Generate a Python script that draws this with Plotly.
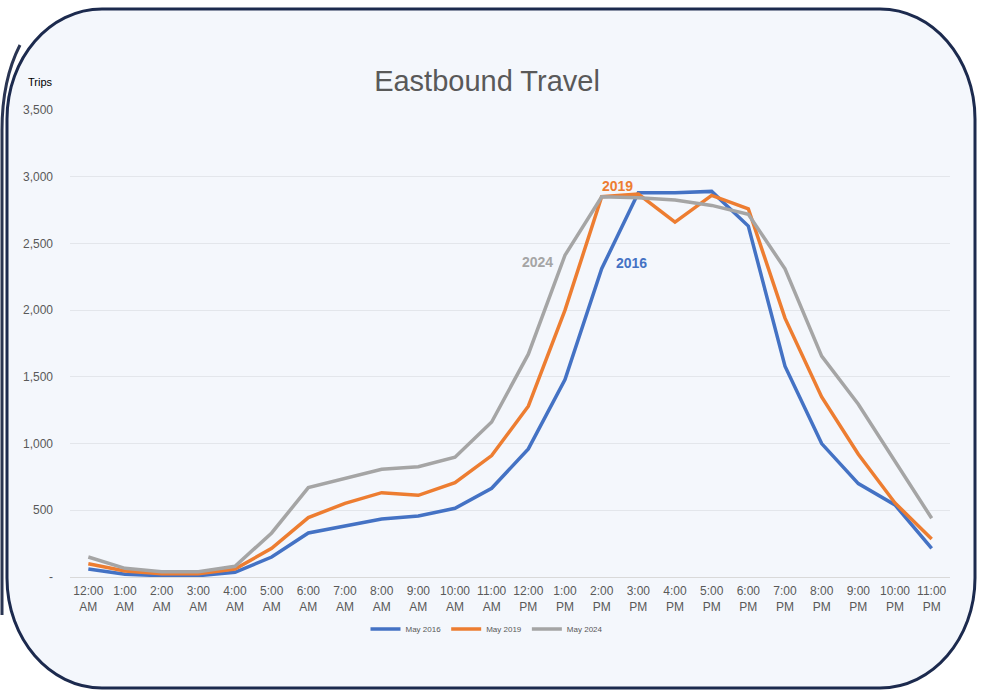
import plotly.graph_objects as go

# Hourly eastbound trip counts, May of each year
hours = ["12:00<br>AM", "1:00<br>AM", "2:00<br>AM", "3:00<br>AM", "4:00<br>AM", "5:00<br>AM",
         "6:00<br>AM", "7:00<br>AM", "8:00<br>AM", "9:00<br>AM", "10:00<br>AM", "11:00<br>AM",
         "12:00<br>PM", "1:00<br>PM", "2:00<br>PM", "3:00<br>PM", "4:00<br>PM", "5:00<br>PM",
         "6:00<br>PM", "7:00<br>PM", "8:00<br>PM", "9:00<br>PM", "10:00<br>PM", "11:00<br>PM"]

may_2016 = [60, 20, 10, 10, 35, 150, 330, 385, 435, 457, 515, 665,
            960, 1480, 2310, 2880, 2880, 2890, 2630, 1580, 1000, 700, 540, 215]
may_2019 = [100, 45, 25, 25, 60, 215, 445, 552, 632, 612, 707, 910,
            1280, 2000, 2850, 2870, 2660, 2860, 2760, 1940, 1350, 920, 555, 285]
may_2024 = [150, 65, 40, 40, 80, 330, 670, 742, 808, 827, 898, 1162,
            1670, 2412, 2850, 2842, 2825, 2785, 2718, 2310, 1655, 1295, 868, 440]

series_names = ["May 2016", "May 2019", "May 2024"]
series_colors = ["#4472C4", "#ED7D31", "#A5A5A5"]

y_ticks = [0, 500, 1000, 1500, 2000, 2500, 3000, 3500]
y_tick_text = ["-", "500", "1,000", "1,500", "2,000", "2,500", "3,000", "3,500"]

# Inline series labels: (text, hour position, trips position, colour index)
label_text = ["2019", "2024", "2016"]
label_x = [14.42, 12.26, 14.80]
label_y = [2930, 2361, 2353]
label_color_idx = [1, 2, 0]

W, H = 986, 692
ML, MR, MT, MB = 70, 36, 110, 115
PW, PH = W - ML - MR, H - MT - MB
FONT = "Liberation Sans, Arial, sans-serif"


def px(x):
    return (x - ML) / PW


def py(y):
    return (H - MB - y) / PH


def rounded_rect(x0, y0, x1, y1, rx, ry):
    k = 0.5523
    pts = [
        f"M {px(x0 + rx)},{py(y0)}",
        f"L {px(x1 - rx)},{py(y0)}",
        f"C {px(x1 - rx + k * rx)},{py(y0)} {px(x1)},{py(y0 + ry - k * ry)} {px(x1)},{py(y0 + ry)}",
        f"L {px(x1)},{py(y1 - ry)}",
        f"C {px(x1)},{py(y1 - ry + k * ry)} {px(x1 - rx + k * rx)},{py(y1)} {px(x1 - rx)},{py(y1)}",
        f"L {px(x0 + rx)},{py(y1)}",
        f"C {px(x0 + rx - k * rx)},{py(y1)} {px(x0)},{py(y1 - ry + k * ry)} {px(x0)},{py(y1 - ry)}",
        f"L {px(x0)},{py(y0 + ry)}",
        f"C {px(x0)},{py(y0 + ry - k * ry)} {px(x0 + rx - k * rx)},{py(y0)} {px(x0 + rx)},{py(y0)}",
        "Z",
    ]
    return " ".join(pts)


fig = go.Figure()
for name, vals, col in zip(series_names, [may_2016, may_2019, may_2024], series_colors):
    fig.add_trace(go.Scatter(
        x=list(range(len(hours))), y=vals, name=name, mode="lines",
        line=dict(color=col, width=3.5), hoverinfo="x+y+name",
    ))

annotations = [
    dict(x=lx, y=ly, xref="x", yref="y", text=f"<b>{t}</b>", showarrow=False,
         font=dict(size=14, color=series_colors[ci], family=FONT))
    for t, lx, ly, ci in zip(label_text, label_x, label_y, label_color_idx)
]
annotations.append(dict(
    x=px(40), y=py(82), xref="paper", yref="paper", text="Trips", showarrow=False,
    xanchor="center", yanchor="middle",
    font=dict(size=11, color="#000000", family=FONT),
))

shapes = [
    dict(type="path", xref="paper", yref="paper", layer="below",
         path=rounded_rect(7, 9, 975, 688, 95, 110),
         fillcolor="#F4F7FC", line=dict(color="#1C2A4E", width=3)),
    dict(type="path", xref="paper", yref="paper", layer="below",
         path=f"M {px(20)},{py(45)} Q {px(2)},{py(80)} {px(2)},{py(130)} L {px(2)},{py(615)}",
         line=dict(color="#2A3553", width=3)),
]

fig.update_layout(
    width=W, height=H,
    margin=dict(l=ML, r=MR, t=MT, b=MB),
    paper_bgcolor="#FFFFFF",
    plot_bgcolor="rgba(0,0,0,0)",
    font=dict(family=FONT, color="#595959"),
    title=dict(text="Eastbound Travel", x=px(487), xref="paper", xanchor="center",
               y=1 - 81 / H, yanchor="middle",
               font=dict(size=29, color="#595959", family=FONT)),
    showlegend=True,
    legend=dict(orientation="h", x=px(487), xanchor="center", y=py(629), yanchor="middle",
                xref="paper", yref="paper",
                font=dict(size=8, color="#595959", family=FONT),
                bgcolor="rgba(0,0,0,0)", itemwidth=30, tracegroupgap=0),
    shapes=shapes,
    annotations=annotations,
    xaxis=dict(
        range=[-0.5, 23.5], tickvals=list(range(len(hours))), ticktext=hours,
        showgrid=False, zeroline=False, showline=True, linecolor="#D9D9D9", linewidth=1,
        ticks="", ticklabelstandoff=3, tickfont=dict(size=12, color="#595959"), fixedrange=True,
    ),
    yaxis=dict(
        range=[0, 3500], tickvals=y_ticks, ticktext=y_tick_text,
        showgrid=True, gridcolor="#E3E6EB", gridwidth=1, zeroline=False, showline=False,
        ticks="", ticklabelstandoff=16, tickfont=dict(size=12, color="#595959"), fixedrange=True,
    ),
)

fig.write_html("out.html")
